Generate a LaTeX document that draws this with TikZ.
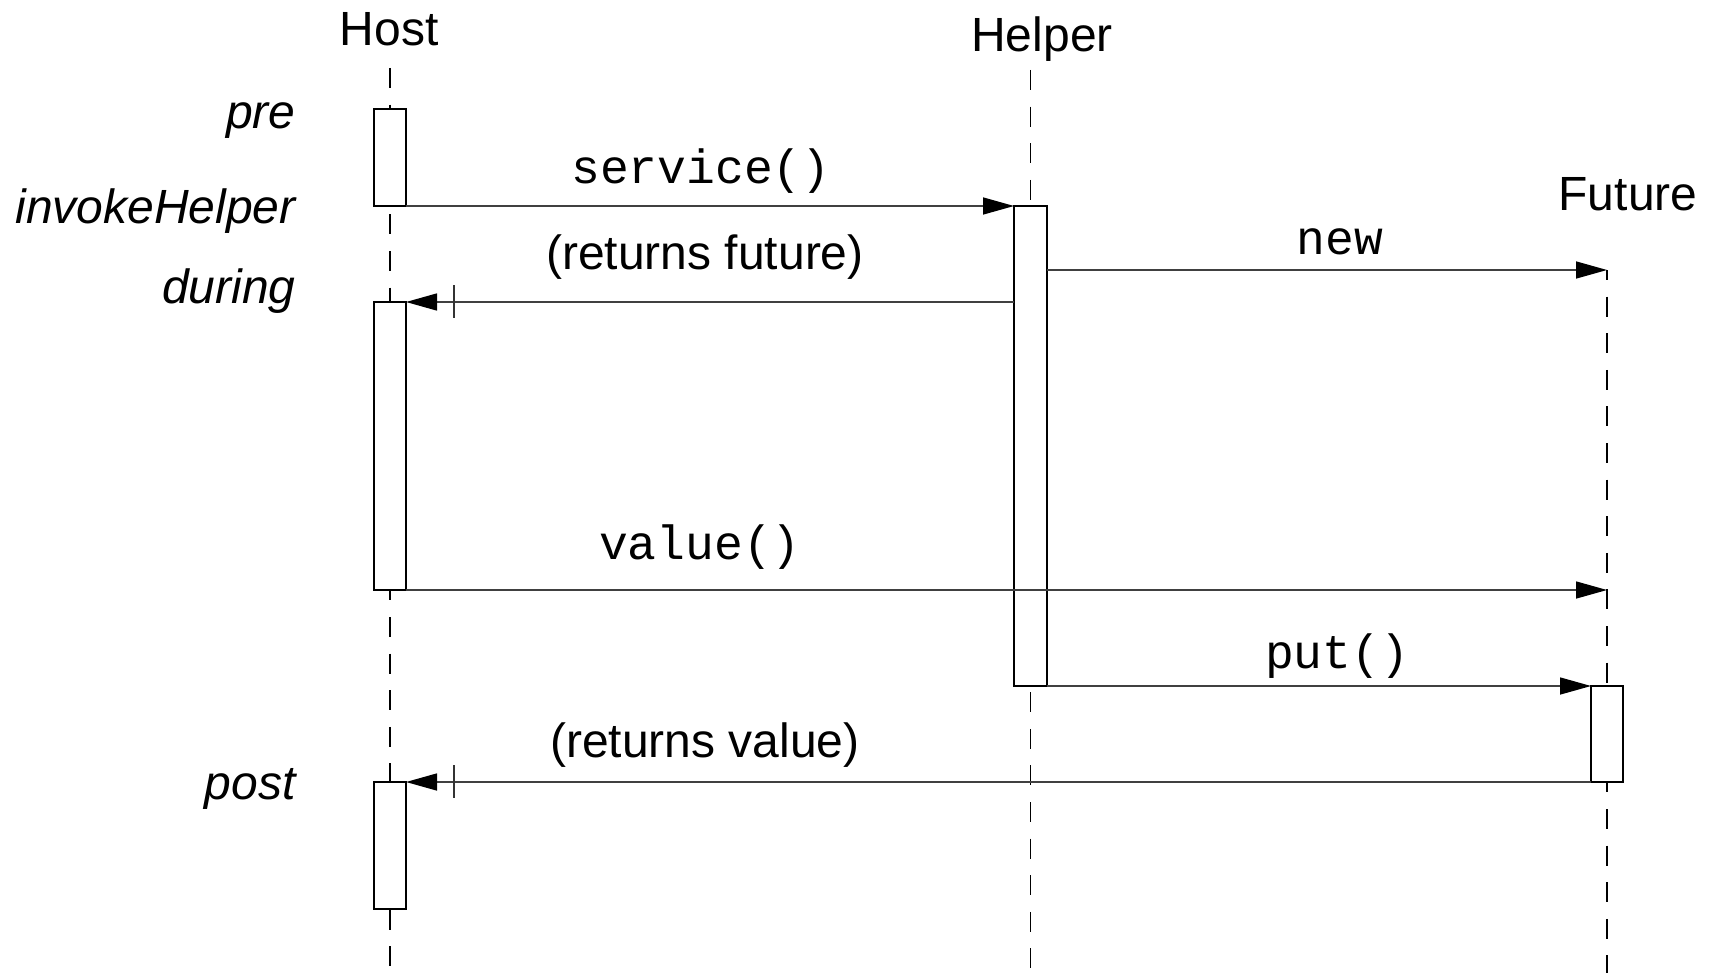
\documentclass[tikz,border=0pt]{standalone}
\usepackage{fontspec}
\setmainfont{Liberation Sans}
\setmonofont{Liberation Mono}
\usetikzlibrary{arrows.meta}

\tikzset{
  lifeline/.style={draw=black, line width=0.8pt, dash pattern=on 10pt off 8.3pt},
  act/.style={draw=black, fill=white, line width=0.75pt, inner sep=0pt, outer sep=0pt,
              minimum width=16pt},
  msg/.style={draw=black!75, line width=0.75pt,
              -{Triangle[length=15.5pt,width=8.5pt,black]}},
  tick/.style={draw=black!80, line width=0.75pt},
  lbl/.style={inner sep=0pt, font=\fontsize{24}{28}\selectfont},
  code/.style={inner sep=0pt, font=\fontsize{24}{28}\selectfont\ttfamily},
  phase/.style={inner sep=0pt, font=\fontsize{24}{28}\selectfont\itshape},
}

\begin{document}
\begin{tikzpicture}[x=0.5pt,y=-0.5pt]
\useasboundingbox (0,0) rectangle (1711,973);

% lifeline end points
\coordinate (hostTop) at (390,68);
\coordinate (hostBot) at (390,973);
\coordinate (helpTop) at (1030.5,70);
\coordinate (helpBot) at (1030.5,973);
\coordinate (futTop)  at (1607,270);
\coordinate (futBot)  at (1607,973);

% participant names
\node[lbl, anchor=base] (hostN) at (389,46) {Host};
\node[lbl, anchor=base] (helpN) at (1042,52) {Helper};
\node[lbl, anchor=base] (futN)  at (1628,211) {Future};

% phase labels on the host side
\node[phase, anchor=base east] (preL)    at (296,129) {pre};
\node[phase, anchor=base east] (invL)    at (296,223) {invokeHelper};
\node[phase, anchor=base east] (durL)    at (296,303) {during};
\node[phase, anchor=base east] (postL)   at (296,799) {post};

% lifelines
\draw[lifeline] (hostTop) -- (hostBot);
\draw[lifeline] (helpTop) -- (helpBot);
\draw[lifeline, dash phase=5pt] (futTop) -- (futBot);

% activation bars
\node[act, minimum height=48.5pt] (pre)    at (390,157.5) {};
\node[act, minimum height=144pt]  (during) at (390,446) {};
\node[act, minimum height=63.5pt] (post)   at (390,845.5) {};
\node[act, minimum width=16.5pt, minimum height=240pt] (helper) at (1030.5,446) {};
\node[act, minimum height=48pt]   (future) at (1607,734) {};

% service() call
\draw[msg] (pre.south east) -- (helper.north west);
\node[code, anchor=base] (svcL) at (701,184) {service()};

% future returned to the host
\draw[msg] (during.north -| helper.west) -- (during.north east);
\draw[tick] ([xshift=24pt,yshift=8.5pt]during.north east) -- ([xshift=24pt,yshift=-8pt]during.north east);
\node[lbl, anchor=base] (retFL) at (705,270) {(returns future)};

% creation of the future
\draw[msg] (futTop -| helper.east) -- (futTop);
\node[code, anchor=base] (newL) at (1340,254) {new};

% value() request
\draw[msg] (during.south east) -- (during.south -| futTop);
\node[code, anchor=base] (valL) at (700,559) {value()};

% put() from the helper
\draw[msg] (helper.south east) -- (future.north west);
\node[code, anchor=base] (putL) at (1337,668) {put()};

% value returned to the host
\draw[msg] (future.south west) -- (post.north east);
\draw[tick] ([xshift=24pt,yshift=8.5pt]post.north east) -- ([xshift=24pt,yshift=-8pt]post.north east);
\node[lbl, anchor=base] (retVL) at (705,757) {(returns value)};
\end{tikzpicture}
\end{document}
